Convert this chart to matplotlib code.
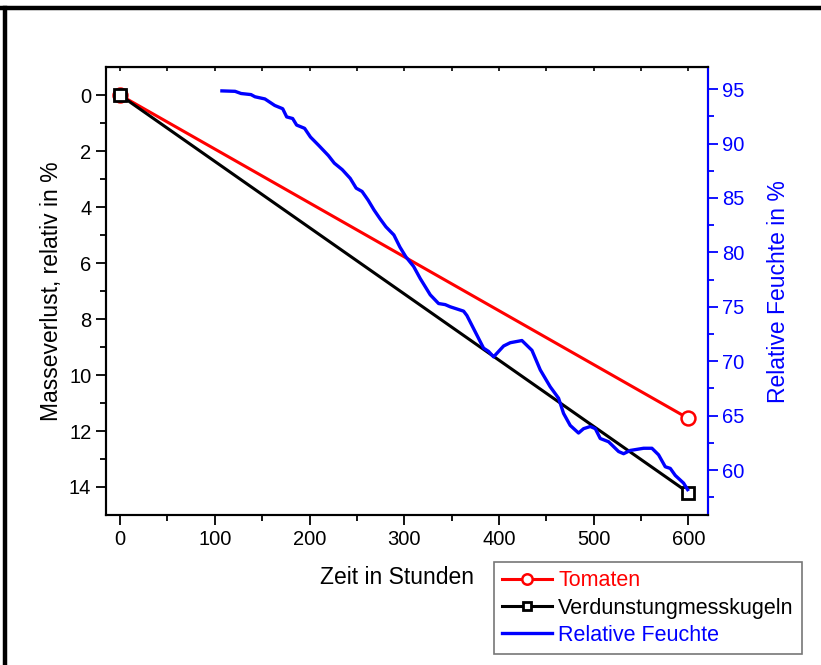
import matplotlib.pyplot as plt
from matplotlib.lines import Line2D

plt.rcParams["font.family"] = ["Liberation Sans", "DejaVu Sans"]

# Massenverlust (relativ in %) ueber der Zeit
zeit = [0, 600]
tomaten = [0, 11.55]
kugeln = [0, 14.2]

# Relative Feuchte
rf_zeit = [107.5, 121.4, 127.7, 138.2, 142.4, 152.9, 163.3, 171.7, 175.9, 182.2,
           186.4, 194.8, 201.0, 209.5, 219.9, 226.2, 234.6, 243.0, 249.3, 255.5,
           261.9, 268.1, 274.4, 280.7, 289.1, 295.4, 301.7, 310.0, 316.9, 327.5,
           336.3, 343.3, 348.6, 362.7, 366.2, 375.0, 383.8, 389.1, 394.4, 405.0,
           412.0, 424.3, 434.9, 443.7, 454.2, 463.0, 468.3, 475.3, 484.1, 489.4,
           496.5, 501.8, 507.0, 515.8, 526.4, 531.7, 538.7, 552.8, 561.6, 568.6,
           575.7, 581.0, 586.3, 595.0, 599.3]
rf_wert = [94.84, 94.8, 94.6, 94.5, 94.3, 94.1, 93.5, 93.2, 92.45, 92.3,
           91.7, 91.4, 90.6, 89.85, 88.9, 88.2, 87.6, 86.8, 85.9, 85.6,
           84.8, 83.9, 83.1, 82.35, 81.6, 80.5, 79.6, 78.7, 77.6, 76.1,
           75.3, 75.2, 75.0, 74.6, 74.2, 72.7, 71.2, 70.9, 70.4, 71.4,
           71.7, 71.9, 71.0, 69.2, 67.65, 66.6, 65.2, 64.1, 63.4, 63.8,
           64.0, 63.8, 62.9, 62.6, 61.7, 61.5, 61.8, 62.0, 62.0, 61.4,
           60.3, 60.15, 59.5, 58.8, 58.2]

fig = plt.figure(figsize=(8.21, 6.65), dpi=100)
ax = fig.add_axes([0.129, 0.2256, 0.733, 0.6734])

l1, = ax.plot(zeit, tomaten, color="red", lw=2.2, marker="o", markersize=10,
              markerfacecolor="white", markeredgewidth=1.8, label="Tomaten")
l2, = ax.plot(zeit, kugeln, color="black", lw=2.2, marker="s", markersize=8,
              markerfacecolor="white", markeredgewidth=2,
              label="Verdunstungmesskugeln")
ax.set_xlim(-15, 620.5)
ax.set_ylim(15, -1)
ax.set_xticks(range(0, 601, 100))
ax.set_xticks(range(50, 601, 100), minor=True)
ax.set_yticks(range(0, 15, 2))
ax.set_yticks(range(1, 15, 2), minor=True)
ax.tick_params(which="major", direction="out", length=7, width=1.3, labelsize=14.5)
ax.tick_params(which="minor", direction="out", length=4, width=1.3)
for s in ax.spines.values():
    s.set_linewidth(1.5)
ax.set_xlabel("Zeit in Stunden", fontsize=16.5)
ax.xaxis.set_label_coords(0.483, -0.115)
ax.set_ylabel("Masseverlust, relativ in %", fontsize=16.5, labelpad=4)

# kleine Striche an der oberen Achse
top = ax.secondary_xaxis("top")
top.set_xticks(range(0, 601, 50))
top.tick_params(direction="in", length=3, width=1.2, labeltop=False)

ax2 = ax.twinx()
l3, = ax2.plot(rf_zeit, rf_wert, color="blue", lw=2.4, label="Relative Feuchte")
ax2.set_ylim(55.87, 97.02)
ax2.set_yticks(range(60, 96, 5))
ax2.set_yticks([57.5, 62.5, 67.5, 72.5, 77.5, 82.5, 87.5, 92.5], minor=True)
ax2.tick_params(which="major", direction="out", length=7, width=1.3,
                labelsize=14.5, colors="blue")
ax2.tick_params(which="minor", direction="out", length=4, width=1.3, colors="blue")
for s in ax2.spines.values():
    s.set_linewidth(1.5)
ax2.spines["right"].set_color("blue")
ax2.set_ylabel("Relative Feuchte in %", fontsize=16.5, color="blue", labelpad=16)

leg = fig.legend(handles=[l1, l2, l3], loc="upper left",
                 bbox_to_anchor=(0.602, 0.155), fontsize=15.5, frameon=True,
                 fancybox=False, edgecolor="#555555", handlelength=2.3,
                 handletextpad=0.3, borderpad=0.38, labelspacing=0.3,
                 borderaxespad=0, markerscale=0.75)
leg.get_frame().set_linewidth(1.2)
for txt, c in zip(leg.get_texts(), ["red", "black", "blue"]):
    txt.set_color(c)

# Rahmen oben und links
fig.add_artist(Line2D([0, 1], [0.988, 0.988], color="black", lw=3.2,
                      transform=fig.transFigure))
fig.add_artist(Line2D([0.0065, 0.0065], [0, 0.988], color="black", lw=3.2,
                      transform=fig.transFigure))

fig.savefig("out.png", dpi=100)
